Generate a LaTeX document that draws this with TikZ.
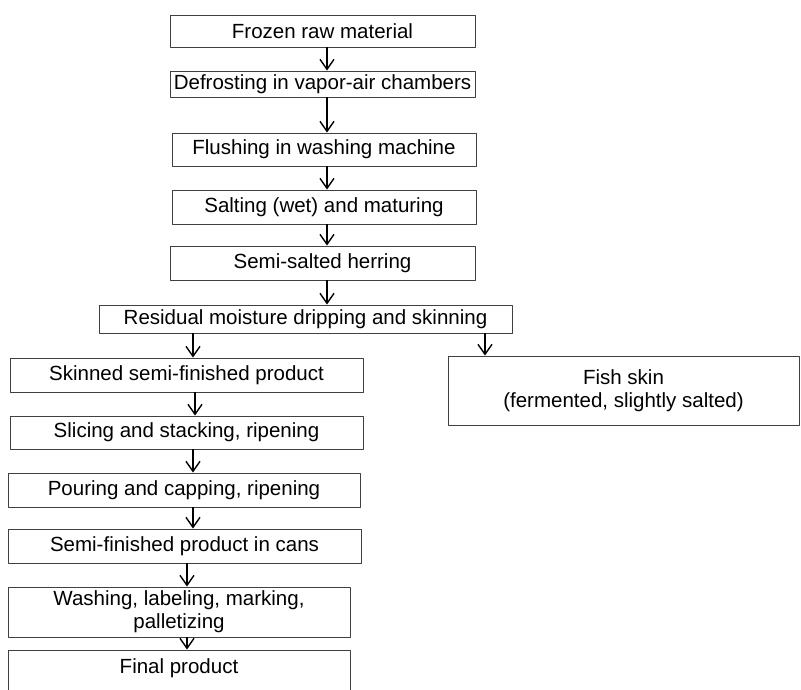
\documentclass[tikz,border=0pt]{standalone}
\usepackage{fontspec}
\setmainfont{Liberation Sans}
\usetikzlibrary{arrows.meta}
\begin{document}
\begin{tikzpicture}[x=1pt,y=-1pt,line join=round,
  box/.style={draw=black!75,line width=0.9pt,rectangle,inner sep=0pt,align=center,
    font=\fontsize{20.5}{23}\selectfont},
  arr/.style={line width=1.4pt,-{Straight Barb[length=10pt,width=14pt,line width=1.4pt]}}]
 \useasboundingbox (0,0) rectangle (801,689);
 \clip (0,0) rectangle (801,689);
 % main column
 \node[box,minimum width=305pt,minimum height=32pt] (frozen) at (322.5,31) {Frozen raw material};
 \node[box,minimum width=305pt,minimum height=26pt] (defrost) at (322.5,84) {Defrosting in vapor-air chambers};
 \node[box,minimum width=304pt,minimum height=33pt] (flush) at (324,149.5) {Flushing in washing machine};
 \node[box,minimum width=304pt,minimum height=34pt] (salting) at (324,207) {Salting (wet) and maturing};
 \node[box,minimum width=305pt,minimum height=34pt] (herring) at (322.5,263) {Semi-salted herring};
 \node[box,minimum width=413pt,minimum height=28pt] (residual) at (305.5,319) {Residual moisture dripping and skinning};
 % branches
 \node[box,minimum width=353pt,minimum height=34pt] (skinned) at (186.5,375) {Skinned semi-finished product};
 \node[box,minimum width=351pt,minimum height=69pt] (fishskin) at (623.5,390.5) {Fish skin\\(fermented, slightly salted)};
 \node[box,minimum width=353pt,minimum height=33pt] (slicing) at (186.5,432.5) {Slicing and stacking, ripening};
 \node[box,minimum width=352pt,minimum height=34pt] (pouring) at (184,490) {Pouring and capping, ripening};
 \node[box,minimum width=353pt,minimum height=34pt] (cans) at (184.5,546) {Semi-finished product in cans};
 \node[box,minimum width=342pt,minimum height=50pt] (washing) at (179,612) {Washing, labeling, marking,\\palletizing};
 \node[box,minimum width=342pt,minimum height=50pt,text depth=18pt,text height=14pt] (final) at (179,675) {Final product};
 % arrows
 \foreach \a/\b/\x in {frozen/defrost/327,defrost/flush/327,flush/salting/327,salting/herring/327,
   herring/residual/327,residual/skinned/193,residual/fishskin/485,skinned/slicing/195,
   slicing/pouring/193,pouring/cans/193,cans/washing/187,washing/final/187}
   \draw[arr] (\a.south -| \x,0) -- (\b.north -| \x,0);
\end{tikzpicture}
\end{document}
